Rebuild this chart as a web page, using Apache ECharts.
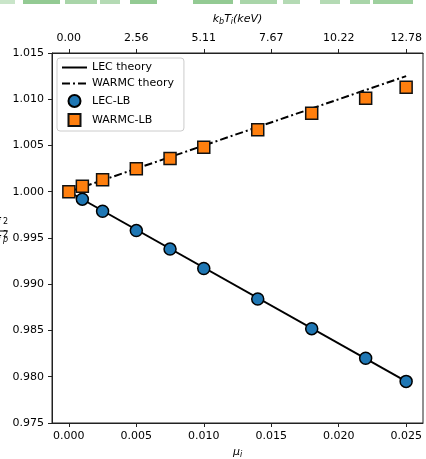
<!DOCTYPE html>
<html>
<head>
<meta charset="utf-8">
<script src="https://cdn.jsdelivr.net/npm/echarts@6/dist/echarts.min.js"></script>
<style>
html,body{margin:0;padding:0;background:#fff;}
#chart{width:426px;height:459px;}
</style>
</head>
<body>
<div id="chart"></div>
<script>
// ---- data ----
const muTicks = [0, 0.005, 0.010, 0.015, 0.020, 0.025];
const topTickLabels = ['0.00', '2.56', '5.11', '7.67', '10.22', '12.78'];
const yTicks = [0.975, 0.980, 0.985, 0.990, 0.995, 1.000, 1.005, 1.010, 1.015];

const muTheory = [0, 0.025];
const lecTheory = [1.000, 0.9795];
const warmcTheory = [1.000, 1.0125];

const muLEC = [0.001, 0.0025, 0.005, 0.0075, 0.010, 0.014, 0.018, 0.022, 0.025];
const lecLB = [0.9992, 0.9979, 0.9958, 0.9938, 0.9917, 0.9884, 0.9852, 0.9820, 0.9795];

const muWARMC = [0, 0.001, 0.0025, 0.005, 0.0075, 0.010, 0.014, 0.018, 0.022, 0.025];
const warmcLB = [1.0000, 1.0006, 1.0013, 1.0025, 1.0036, 1.0048, 1.0067, 1.0085, 1.0101, 1.0113];

const seriesNames = ['LEC theory', 'WARMC theory', 'LEC-LB', 'WARMC-LB'];

// ---- chart ----
const FONT = 'DejaVu Sans';
const pair = (xs, ys) => xs.map((x, i) => [x, ys[i]]);
const chart = echarts.init(document.getElementById('chart'), null, {renderer: 'canvas'});

const axisLine = {show: true, onZero: false, lineStyle: {color: '#222', width: 1}};
const axisTick = {show: true, inside: false, length: 4, lineStyle: {color: '#222', width: 1}};
const SQUARE = 'path://M0,0L10,0L10,10L0,10Z';

// decorative blurred strip at the very top of the reference image
const stripSegs = [[0,15,0.25],[23,37,0.5],[65,32,0.4],[100,20,0.35],[130,27,0.5],[193,40,0.5],[240,37,0.4],[283,17,0.35],[320,20,0.35],[350,20,0.4],[373,40,0.45]];
const strip = stripSegs.map(s => ({type: 'rect', shape: {x: s[0], y: 0, width: s[1], height: 4},
  style: {fill: 'rgba(40,150,40,' + s[2] + ')'}, silent: true}));

chart.setOption({
  animation: false,
  backgroundColor: '#fff',
  textStyle: {fontFamily: FONT},
  grid: {left: 52, right: 3, top: 53, bottom: 36, containLabel: false, outerBoundsMode: 'none',
    show: true, borderColor: '#222', borderWidth: 1, backgroundColor: 'transparent'},
  legend: {
    orient: 'vertical', left: 57, top: 58,
    itemWidth: 25, itemHeight: 12, itemGap: 5,
    padding: [4, 10, 4, 4],
    backgroundColor: 'rgba(255,255,255,0.8)', borderColor: '#ccc', borderWidth: 1, borderRadius: 3,
    textStyle: {fontFamily: FONT, fontSize: 11, color: '#000'},
    data: [
      {name: seriesNames[0], itemStyle: {opacity: 0}},
      {name: seriesNames[1], itemStyle: {opacity: 0}},
      {name: seriesNames[2], icon: 'circle'},
      {name: seriesNames[3], icon: SQUARE}
    ]
  },
  xAxis: [{
    type: 'value', position: 'bottom', min: -0.00125, max: 0.02625,
    axisLine: axisLine,
    axisTick: Object.assign({}, axisTick, {customValues: muTicks}),
    axisLabel: {customValues: muTicks, margin: 8, fontFamily: FONT, fontSize: 11, color: '#000', formatter: v => v.toFixed(3)},
    splitLine: {show: false},
    name: '{i|μ}{sub|i}', nameLocation: 'middle', nameGap: 22,
    nameTextStyle: {rich: {
      i: {fontFamily: FONT, fontStyle: 'italic', fontSize: 11, color: '#000', lineHeight: 14},
      sub: {fontFamily: FONT, fontStyle: 'italic', fontSize: 8, color: '#000', lineHeight: 6, verticalAlign: 'bottom'}
    }}
  }, {
    type: 'value', position: 'top', min: -0.00125, max: 0.02625,
    axisLine: axisLine,
    axisTick: Object.assign({}, axisTick, {customValues: muTicks}),
    axisLabel: {customValues: muTicks, margin: 9, fontFamily: FONT, fontSize: 11, color: '#000',
      formatter: v => {
        let best = 0;
        muTicks.forEach((t, i) => { if (Math.abs(t - v) < Math.abs(muTicks[best] - v)) best = i; });
        return topTickLabels[best];
      }},
    splitLine: {show: false},
    name: '{i|k}{sub|b}{i|T}{sub|i}{i|(keV)}', nameLocation: 'middle', nameGap: 27,
    nameTextStyle: {rich: {
      i: {fontFamily: FONT, fontStyle: 'italic', fontSize: 11, color: '#000', lineHeight: 14},
      sub: {fontFamily: FONT, fontStyle: 'italic', fontSize: 8, color: '#000', lineHeight: 6, verticalAlign: 'bottom'}
    }}
  }],
  yAxis: {
    type: 'value', min: yTicks[0], max: yTicks[yTicks.length - 1], interval: 0.005,
    axisLine: axisLine, axisTick: axisTick,
    axisLabel: {margin: 8, fontFamily: FONT, fontSize: 11, color: '#000', formatter: v => v.toFixed(3)},
    splitLine: {show: false}
  },
  graphic: strip.concat([
    {type: 'text', left: -6, top: 215, style: {text: 'σ', font: 'italic 11px DejaVu Sans', fill: '#000'}},
    {type: 'text', left: 3, top: 218, style: {text: '2', font: '8px DejaVu Sans', fill: '#000'}},
    {type: 'line', shape: {x1: 0, y1: 231, x2: 8, y2: 231}, style: {stroke: '#000', lineWidth: 1}},
    {type: 'text', left: -6, top: 233, style: {text: 'σ', font: 'italic 11px DejaVu Sans', fill: '#000'}},
    {type: 'text', left: 3, top: 231, style: {text: '2', font: '8px DejaVu Sans', fill: '#000'}},
    {type: 'text', left: 3, top: 236, style: {text: 'p', font: 'italic 8px DejaVu Sans', fill: '#000'}}
  ]),
  series: [
    {name: seriesNames[0], type: 'line', xAxisIndex: 0, data: pair(muTheory, lecTheory), symbol: 'none', z: 2,
      lineStyle: {color: '#000', width: 2}, itemStyle: {color: '#000'}},
    {name: seriesNames[1], type: 'line', xAxisIndex: 0, data: pair(muTheory, warmcTheory), symbol: 'none', z: 2,
      lineStyle: {color: '#000', width: 2, type: [8, 3, 2, 3]}, itemStyle: {color: '#000'}},
    {name: seriesNames[2], type: 'scatter', xAxisIndex: 0, data: pair(muLEC, lecLB), symbol: 'circle', symbolSize: 12, z: 3,
      itemStyle: {color: '#1f77b4', borderColor: '#000', borderWidth: 1.5, opacity: 1}},
    {name: seriesNames[3], type: 'scatter', xAxisIndex: 0, data: pair(muWARMC, warmcLB), symbol: 'rect', symbolSize: 12, z: 4,
      symbolKeepAspect: true,
      itemStyle: {color: '#ff7f0e', borderColor: '#111', borderWidth: 1.5, opacity: 1}}
  ]
});
</script>
</body>
</html>
